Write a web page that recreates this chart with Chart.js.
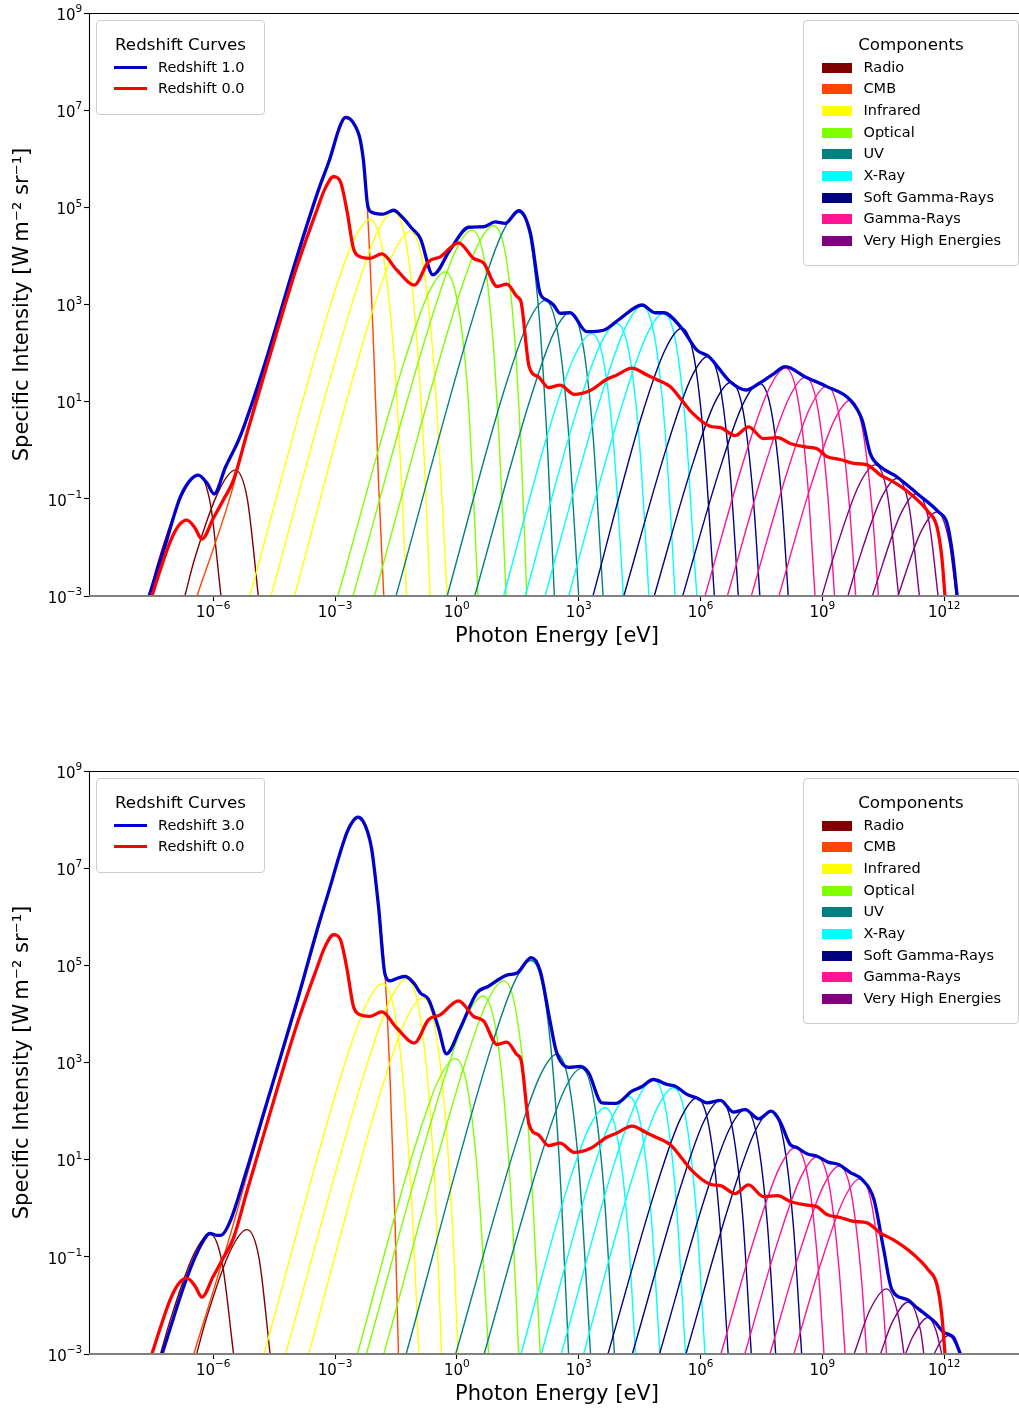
<!DOCTYPE html>
<html><head><meta charset="utf-8">
<script src="https://cdn.jsdelivr.net/npm/chart.js@4.4.1/dist/chart.umd.min.js"></script>
<style>
html,body{margin:0;padding:0;background:#fff;}
body{width:1019px;height:1410px;overflow:hidden;position:relative;font-family:'DejaVu Sans',sans-serif;}
.panel{position:absolute;left:0;width:1030px;height:660px;}
.panel canvas{position:absolute;left:0;top:0;}
.leg{position:absolute;background:rgba(255,255,255,0.8);border:1px solid #cccccc;border-radius:4px;box-sizing:border-box;z-index:2;}
.leg .ttl{position:absolute;left:0;right:0;text-align:center;font-size:16.7px;line-height:20px;color:#000;white-space:nowrap;}
.leg .txt{position:absolute;font-size:14.5px;line-height:18px;color:#000;white-space:nowrap;}
.leg .hnd{position:absolute;}
</style>
</head><body>
<div class="panel" id="p1" style="top:0px"><canvas id="c1" width="1030" height="660"></canvas></div>
<div class="panel" id="p2" style="top:758px"><canvas id="c2" width="1030" height="660"></canvas></div>
<script>
// ---------- axis / labels ----------
const xTickExp = [-6, -3, 0, 3, 6, 9, 12];
const yTickExp = [-3, -1, 1, 3, 5, 7, 9];
const xRangeExp = [-9.06, 13.99];
const yRangeExp = [-3, 9];
const componentNames = ['Radio','CMB','Infrared','Optical','UV','X-Ray','Soft Gamma-Rays','Gamma-Rays','Very High Energies'];
const componentColors = ['#800000','#FF4500','#FFFF00','#7FFF00','#008080','#00FFFF','#000080','#FF1493','#800080'];
const totalColors = ['#0000CD','#FF0000'];
const legendTop = ['Redshift 1.0','Redshift 0.0'];
const legendBottom = ['Redshift 3.0','Redshift 0.0'];

// ---------- data: [log10(E/eV), log10(I)] ----------
// total, redshift 0.0 (same in both panels)
const totalZ0 = [[-7.51,-3],[-7.30,-2.45],[-7.05,-1.86],[-6.85,-1.55],[-6.65,-1.44],[-6.45,-1.60],[-6.28,-1.83],[-6.00,-1.40],[-5.75,-1.02],[-5.50,-0.61],[-5.17,0.35],[-4.76,1.51],[-3.94,3.78],[-3.45,4.94],[-3.25,5.38],[-3.04,5.63],[-2.87,5.53],[-2.71,4.94],[-2.55,4.16],[-2.46,4.02],[-2.14,3.95],[-1.85,4.04],[-1.48,3.71],[-1.05,3.40],[-0.70,3.88],[-0.41,3.98],[0.04,4.27],[0.41,3.95],[0.66,3.85],[0.99,3.37],[1.23,3.42],[1.48,3.16],[1.58,3.05],[1.78,1.72],[2.01,1.51],[2.26,1.29],[2.54,1.34],[2.89,1.15],[3.28,1.23],[3.69,1.46],[3.94,1.55],[4.31,1.69],[4.68,1.55],[4.93,1.45],[5.25,1.31],[5.52,1.05],[5.77,0.79],[6.22,0.50],[6.51,0.46],[6.85,0.30],[7.18,0.48],[7.55,0.24],[7.90,0.26],[8.21,0.14],[8.58,0.07],[8.87,0.03],[9.11,-0.13],[9.44,-0.19],[9.77,-0.27],[10.10,-0.30],[10.43,-0.51],[10.75,-0.65],[11.16,-0.89],[11.61,-1.27],[11.82,-1.57],[11.94,-2.19],[12.02,-3]];

// ---- top panel: redshift 1.0 ----
const totalZ1 = [[-7.58,-3],[-7.22,-2.06],[-6.81,-0.96],[-6.55,-0.60],[-6.37,-0.51],[-6.15,-0.68],[-5.98,-0.90],[-5.70,-0.35],[-5.34,0.28],[-4.76,1.70],[-3.94,3.98],[-3.40,5.38],[-3.12,6.02],[-2.95,6.50],[-2.85,6.73],[-2.75,6.85],[-2.65,6.83],[-2.55,6.74],[-2.45,6.58],[-2.38,6.39],[-2.30,5.95],[-2.20,5.05],[-2.10,4.90],[-1.81,4.86],[-1.56,4.94],[-1.35,4.80],[-1.11,4.57],[-0.90,4.36],[-0.59,3.61],[-0.17,4.12],[0.29,4.59],[0.66,4.60],[0.94,4.70],[1.19,4.67],[1.52,4.93],[1.81,4.47],[2.05,3.23],[2.22,3.09],[2.38,2.99],[2.54,2.82],[2.79,2.83],[3.20,2.44],[3.61,2.47],[4.02,2.71],[4.56,2.99],[4.88,2.83],[5.09,2.83],[5.54,2.51],[5.91,2.06],[6.20,1.93],[6.73,1.41],[7.12,1.24],[7.45,1.38],[7.76,1.55],[8.09,1.72],[8.58,1.51],[9.11,1.31],[9.69,1.03],[9.98,0.62],[10.18,-0.07],[10.43,-0.34],[10.84,-0.55],[11.33,-0.89],[11.86,-1.27],[12.07,-1.50],[12.20,-2.10],[12.32,-3]];
const radioZ1 = [
 [[-7.58,-3],[-7.37,-2.34],[-6.77,-0.93],[-6.37,-0.51],[-6.07,-1.11],[-5.81,-3]],
 [[-6.70,-3],[-6.46,-2.24],[-5.86,-0.83],[-5.46,-0.41],[-5.16,-1.01],[-4.89,-3]]
];
const cmbZ1 = [
 [[-6.40,-3],[-5.58,-0.95],[-4.76,1.68],[-3.94,3.95],[-3.40,5.35],[-3.12,6.00],[-2.95,6.48],[-2.85,6.71],[-2.75,6.83],[-2.65,6.81],[-2.55,6.72],[-2.45,6.56],[-2.38,6.37],[-2.30,5.92],[-2.21,5.05],[-2.05,2.10],[-1.93,-0.65],[-1.80,-3]]
];
const infraredZ1 = [
 [[-5.10,-3],[-3.14,2.92],[-2.54,4.33],[-2.14,4.75],[-1.84,4.15],[-1.59,2.35],[-1.39,-0.25],[-1.24,-3]],
 [[-4.58,-3],[-2.56,3.08],[-1.96,4.49],[-1.56,4.91],[-1.26,4.31],[-1.01,2.51],[-0.81,-0.09],[-0.66,-3]],
 [[-4.00,-3],[-2.15,2.67],[-1.55,4.08],[-1.15,4.50],[-0.85,3.90],[-0.60,2.10],[-0.40,-0.50],[-0.24,-3]]
];
const opticalZ1 = [
 [[-2.93,-3],[-1.29,1.84],[-0.69,3.25],[-0.29,3.67],[0.01,3.07],[0.26,1.27],[0.43,-1.33],[0.52,-3]],
 [[-2.56,-3],[-0.63,2.70],[-0.03,4.11],[0.37,4.53],[0.67,3.93],[0.90,2.13],[1.08,-0.47],[1.21,-3]],
 [[-2.03,-3],[-0.10,2.79],[0.50,4.20],[0.90,4.62],[1.20,4.02],[1.43,2.22],[1.60,-0.38],[1.72,-3]]
];
const uvZ1 = [
 [[-1.50,-3],[0.52,3.07],[1.12,4.48],[1.52,4.90],[1.82,4.30],[2.05,2.50],[2.24,-0.10],[2.40,-3]],
 [[-0.24,-3],[1.17,1.25],[1.77,2.66],[2.17,3.08],[2.47,2.48],[2.72,0.68],[2.92,-1.92],[3.00,-3]],
 [[0.44,-3],[1.79,1.01],[2.39,2.42],[2.79,2.84],[3.09,2.24],[3.34,0.44],[3.54,-2.16],[3.60,-3]]
];
const xrayZ1 = [
 [[1.15,-3],[2.32,0.57],[2.92,1.98],[3.32,2.40],[3.62,1.80],[3.87,0.00],[4.10,-3]],
 [[1.68,-3],[2.94,0.78],[3.54,2.19],[3.94,2.61],[4.24,2.01],[4.49,0.21],[4.73,-3]],
 [[2.17,-3],[3.56,1.14],[4.16,2.55],[4.56,2.97],[4.86,2.37],[5.11,0.57],[5.31,-2.03],[5.37,-3]],
 [[2.75,-3],[4.09,0.99],[4.69,2.40],[5.09,2.82],[5.39,2.22],[5.64,0.42],[5.84,-2.18],[5.91,-3]]
];
const softGammaZ1 = [
 [[3.35,-3],[4.54,0.68],[5.14,2.09],[5.54,2.51],[5.84,1.91],[6.09,0.11],[6.34,-3]],
 [[4.11,-3],[5.18,0.10],[5.78,1.51],[6.18,1.93],[6.48,1.33],[6.73,-0.47],[6.93,-3]],
 [[4.86,-3],[5.75,-0.43],[6.35,0.98],[6.75,1.40],[7.05,0.80],[7.30,-1.00],[7.46,-3]],
 [[5.56,-3],[6.45,-0.45],[7.05,0.96],[7.45,1.38],[7.75,0.78],[8.00,-1.02],[8.16,-3]]
];
const gammaZ1 = [
 [[6.11,-3],[7.09,-0.14],[7.69,1.27],[8.09,1.69],[8.39,1.09],[8.64,-0.71],[8.82,-3]],
 [[6.66,-3],[7.58,-0.33],[8.18,1.08],[8.58,1.50],[8.88,0.90],[9.13,-0.90],[9.30,-3]],
 [[7.25,-3],[8.11,-0.51],[8.71,0.90],[9.11,1.32],[9.41,0.72],[9.66,-1.08],[9.82,-3]],
 [[7.93,-3],[8.69,-0.80],[9.29,0.61],[9.69,1.03],[9.99,0.43],[10.24,-1.37],[10.38,-3]]
];
const vheZ1 = [
 [[8.99,-3],[9.30,-2.13],[9.90,-0.72],[10.30,-0.30],[10.60,-0.90],[10.88,-3]],
 [[9.63,-3],[9.84,-2.41],[10.44,-1.00],[10.84,-0.58],[11.14,-1.18],[11.39,-3]],
 [[10.23,-3],[10.93,-1.31],[11.33,-0.89],[11.63,-1.49],[11.85,-3]],
 [[10.86,-3],[11.42,-1.69],[11.82,-1.27],[12.12,-1.87],[12.30,-3]]
];

// ---- bottom panel: redshift 3.0 ----
const totalZ3 = [[-7.26,-3],[-6.65,-1.43],[-6.30,-0.75],[-6.08,-0.52],[-5.90,-0.56],[-5.79,-0.55],[-5.58,-0.26],[-5.20,0.72],[-4.76,1.95],[-3.94,4.25],[-3.40,5.85],[-3.12,6.62],[-2.90,7.25],[-2.70,7.75],[-2.55,7.98],[-2.44,8.05],[-2.32,7.98],[-2.20,7.75],[-2.10,7.40],[-1.93,6.21],[-1.77,4.81],[-1.64,4.68],[-1.45,4.74],[-1.27,4.77],[-1.05,4.62],[-0.90,4.43],[-0.70,4.30],[-0.45,3.70],[-0.26,3.18],[0.08,3.70],[0.49,4.43],[0.78,4.57],[1.23,4.80],[1.48,4.84],[1.83,5.16],[2.05,4.89],[2.30,3.82],[2.45,3.22],[2.75,2.90],[3.04,2.92],[3.24,2.79],[3.57,2.17],[3.92,2.16],[4.31,2.41],[4.55,2.50],[4.84,2.65],[5.17,2.55],[5.38,2.51],[5.67,2.34],[5.91,2.27],[6.16,2.17],[6.49,2.22],[6.81,1.98],[7.10,2.03],[7.43,1.84],[7.74,2.00],[7.96,1.78],[8.21,1.31],[8.37,1.25],[8.62,1.12],[8.87,1.07],[9.14,0.95],[9.40,0.90],[9.68,0.74],[9.98,0.59],[10.27,0.18],[10.51,-0.85],[10.71,-1.67],[11.08,-1.88],[11.35,-2.06],[11.61,-2.23],[11.78,-2.35],[11.98,-2.55],[12.12,-2.60],[12.23,-2.66],[12.40,-3]];
const radioZ3 = [
 [[-7.30,-3],[-7.08,-2.36],[-6.48,-0.95],[-6.08,-0.53],[-5.78,-1.13],[-5.50,-3]],
 [[-6.41,-3],[-6.17,-2.27],[-5.57,-0.86],[-5.17,-0.44],[-4.87,-1.04],[-4.60,-3]]
];
const cmbZ3 = [
 [[-6.48,-3],[-5.60,-0.60],[-4.76,1.90],[-3.94,4.20],[-3.40,5.80],[-3.12,6.60],[-2.90,7.22],[-2.70,7.72],[-2.55,7.96],[-2.44,8.03],[-2.32,7.96],[-2.20,7.73],[-2.10,7.38],[-1.93,6.20],[-1.77,4.80],[-1.64,2.53],[-1.52,-0.40],[-1.44,-3]]
];
const infraredZ3 = [
 [[-4.75,-3],[-2.83,2.79],[-2.23,4.20],[-1.83,4.62],[-1.53,4.02],[-1.28,2.22],[-1.08,-0.38],[-0.94,-3]],
 [[-4.22,-3],[-2.24,2.89],[-1.64,4.30],[-1.24,4.72],[-0.94,4.12],[-0.69,2.32],[-0.50,-0.28],[-0.38,-3]],
 [[-3.65,-3],[-1.84,2.50],[-1.24,3.91],[-0.84,4.33],[-0.54,3.73],[-0.29,1.93],[-0.09,-0.67],[0.03,-3]]
];
const opticalZ3 = [
 [[-2.45,-3],[-1.04,1.25],[-0.44,2.66],[-0.04,3.08],[0.26,2.48],[0.51,0.68],[0.71,-1.92],[0.78,-3]],
 [[-2.23,-3],[-0.36,2.54],[0.24,3.95],[0.64,4.37],[0.94,3.77],[1.19,1.97],[1.39,-0.63],[1.52,-3]],
 [[-1.80,-3],[0.15,2.85],[0.75,4.26],[1.15,4.68],[1.45,4.08],[1.70,2.28],[1.90,-0.32],[2.05,-3]]
];
const uvZ3 = [
 [[-1.25,-3],[0.83,3.27],[1.43,4.68],[1.83,5.10],[2.13,4.50],[2.38,2.70],[2.58,0.10],[2.75,-3]],
 [[-0.03,-3],[1.46,1.34],[2.06,2.75],[2.46,3.17],[2.76,2.57],[3.01,0.77],[3.21,-1.83],[3.29,-3]],
 [[0.67,-3],[2.06,1.05],[2.66,2.46],[3.06,2.88],[3.36,2.28],[3.61,0.48],[3.81,-2.12],[3.88,-3]]
];
const xrayZ3 = [
 [[1.58,-3],[2.65,0.24],[3.25,1.65],[3.65,2.07],[3.95,1.47],[4.20,-0.33],[4.40,-3]],
 [[2.08,-3],[3.23,0.47],[3.83,1.88],[4.23,2.30],[4.53,1.70],[4.78,-0.10],[5.00,-3]],
 [[2.57,-3],[3.84,0.82],[4.44,2.23],[4.84,2.65],[5.14,2.05],[5.39,0.25],[5.63,-3]],
 [[3.12,-3],[4.33,0.65],[4.93,2.06],[5.33,2.48],[5.63,1.88],[5.88,0.08],[6.11,-3]]
];
const softGammaZ3 = [
 [[3.72,-3],[4.91,0.44],[5.51,1.85],[5.91,2.27],[6.21,1.67],[6.46,-0.13],[6.68,-3]],
 [[4.32,-3],[5.49,0.39],[6.09,1.80],[6.49,2.22],[6.79,1.62],[7.04,-0.18],[7.25,-3]],
 [[4.99,-3],[6.10,0.20],[6.70,1.61],[7.10,2.03],[7.40,1.43],[7.65,-0.37],[7.85,-3]],
 [[5.64,-3],[6.74,0.17],[7.34,1.58],[7.74,2.00],[8.04,1.40],[8.29,-0.40],[8.49,-3]]
];
const gammaZ3 = [
 [[6.50,-3],[7.34,-0.58],[7.94,0.83],[8.34,1.25],[8.64,0.65],[8.89,-1.15],[9.04,-3]],
 [[7.09,-3],[7.87,-0.77],[8.47,0.64],[8.87,1.06],[9.17,0.46],[9.42,-1.34],[9.56,-3]],
 [[7.71,-3],[8.42,-0.96],[9.02,0.45],[9.42,0.87],[9.72,0.27],[9.97,-1.53],[10.09,-3]],
 [[8.30,-3],[8.93,-1.22],[9.53,0.19],[9.93,0.61],[10.23,0.01],[10.48,-1.79],[10.58,-3]]
];
const vheZ3 = [
 [[9.78,-3],[10.18,-2.08],[10.58,-1.66],[10.88,-2.26],[11.01,-3]],
 [[10.43,-3],[10.72,-2.35],[11.12,-1.93],[11.42,-2.53],[11.50,-3]],
 [[11.05,-3],[11.21,-2.67],[11.61,-2.25],[11.80,-2.52],[11.94,-3]],
 [[11.75,-3],[11.92,-2.74],[12.12,-2.62],[12.27,-2.77],[12.38,-3]]
];

const componentsZ1 = [radioZ1, cmbZ1, infraredZ1, opticalZ1, uvZ1, xrayZ1, softGammaZ1, gammaZ1, vheZ1];
const componentsZ3 = [radioZ3, cmbZ3, infraredZ3, opticalZ3, uvZ3, xrayZ3, softGammaZ3, gammaZ3, vheZ3];

// ---------- helpers ----------
const FONT = "'DejaVu Sans', sans-serif";
const BASE_FONT = "15px 'DejaVu Sans', sans-serif";
const SUP_FONT = "10.5px 'DejaVu Sans', sans-serif";
Chart.defaults.font.family = FONT;

function toPts(arr){ return arr.map(p => ({x: Math.pow(10, p[0]), y: Math.pow(10, p[1])})); }
function lineDs(arr, color, width, order){
  return {data: toPts(arr), borderColor: color, backgroundColor: color, borderWidth: width, pointRadius: 0,
          fill: false, cubicInterpolationMode: 'monotone', order: order, clip: 0, borderCapStyle: 'butt', borderJoinStyle: 'round'};
}

const framePlugin = {
  id: 'frame',
  afterDatasetsDraw(chart){
    const {ctx, chartArea: a} = chart;
    ctx.save();
    ctx.strokeStyle = '#000'; ctx.lineWidth = 1.1;
    ctx.beginPath(); ctx.moveTo(a.left, a.top + 0.5); ctx.lineTo(a.right, a.top + 0.5); ctx.stroke();
    ctx.beginPath(); ctx.moveTo(a.left + 0.5, a.top); ctx.lineTo(a.left + 0.5, a.bottom); ctx.stroke();
    ctx.strokeStyle = '#808080'; ctx.lineWidth = 2;
    ctx.beginPath(); ctx.moveTo(a.left, a.bottom); ctx.lineTo(a.right, a.bottom); ctx.stroke();
    ctx.restore();
  }
};

// power-of-ten tick labels drawn as "10" + raised exponent
const tickLabelPlugin = {
  id: 'tickLabels',
  afterDraw(chart){
    const {ctx, chartArea: a, scales} = chart;
    ctx.save(); ctx.fillStyle = '#000'; ctx.textBaseline = 'alphabetic'; ctx.textAlign = 'left';
    const draw = (exp, px, baseY, align) => {
      const base = '10', sup = String(exp).replace('-', '\u2212');
      ctx.font = BASE_FONT; const wb = ctx.measureText(base).width;
      ctx.font = SUP_FONT; const ws = ctx.measureText(sup).width;
      const tot = wb + ws;
      const x0 = align === 'center' ? px - tot / 2 : px - tot;
      ctx.font = BASE_FONT; ctx.fillText(base, x0, baseY);
      ctx.font = SUP_FONT; ctx.fillText(sup, x0 + wb, baseY - 7.5);
    };
    xTickExp.forEach(e => draw(e, scales.x.getPixelForValue(Math.pow(10, e)), a.bottom + 20.7, 'center'));
    yTickExp.forEach(e => draw(e, a.left - 6.8, scales.y.getPixelForValue(Math.pow(10, e)) + 6.7, 'right'));
    ctx.restore();
  }
};

function makeChart(canvasId, total, components){
  const datasets = [];
  datasets.push(lineDs(totalZ0, totalColors[1], 3.3, 0));
  datasets.push(lineDs(total, totalColors[0], 3.3, 1));
  components.forEach((group, k) => {
    group.forEach(curve => datasets.push(lineDs(curve, componentColors[k], 1.4, 20 - k)));
  });
  return new Chart(document.getElementById(canvasId), {
    type: 'line',
    data: {datasets},
    plugins: [framePlugin, tickLabelPlugin],
    options: {
      responsive: false, animation: false, devicePixelRatio: 1, parsing: false,
      layout: {padding: {top: 13, left: 0, right: 5, bottom: 0}},
      plugins: {legend: {display: false}, tooltip: {enabled: false}},
      scales: {
        x: {
          type: 'logarithmic', min: Math.pow(10, xRangeExp[0]), max: Math.pow(10, xRangeExp[1]),
          afterBuildTicks: s => { s.ticks = xTickExp.map(e => ({value: Math.pow(10, e)})); },
          afterFit: s => { s.height = 64; },
          ticks: {display: false, autoSkip: false, maxRotation: 0, minRotation: 0},
          grid: {display: true, drawOnChartArea: false, drawTicks: true, tickLength: 5, tickColor: '#000', tickWidth: 1.1},
          border: {display: false},
          title: {display: true, text: 'Photon Energy [eV]', color: '#000', font: {family: FONT, size: 21},
                  padding: {top: 0, bottom: 10.4}}
        },
        y: {
          type: 'logarithmic', min: Math.pow(10, yRangeExp[0]), max: Math.pow(10, yRangeExp[1]),
          afterBuildTicks: s => { s.ticks = yTickExp.map(e => ({value: Math.pow(10, e)})); },
          afterFit: s => { s.width = 89; },
          ticks: {display: false, autoSkip: false},
          grid: {display: true, drawOnChartArea: false, drawTicks: true, tickLength: 5, tickColor: '#000', tickWidth: 1.1},
          border: {display: false},
          title: {display: true, text: 'Specific Intensity [W\u2009m\u207B\u00B2 sr\u207B\u00B9]', color: '#000',
                  font: {family: FONT, size: 21}, padding: {top: 10.4, bottom: 0}}
        }
      }
    }
  });
}

function el(tag, cls, styles, text){
  const d = document.createElement(tag); if (cls) d.className = cls;
  Object.assign(d.style, styles || {}); if (text !== undefined) d.textContent = text; return d;
}
function buildLegends(panelId, redshiftLabels){
  const p = document.getElementById(panelId);
  const l1 = el('div', 'leg', {left: '96px', top: '20px', width: '169px', height: '95px'});
  l1.appendChild(el('div', 'ttl', {top: '12.5px'}, 'Redshift Curves'));
  redshiftLabels.forEach((lab, i) => {
    const cy = 46.5 + 21 * i;
    l1.appendChild(el('div', 'hnd', {left: '17px', top: (cy - 1.6) + 'px', width: '33px', height: '3.3px', background: totalColors[i]}));
    l1.appendChild(el('div', 'txt', {left: '61px', top: (cy - 10) + 'px'}, lab));
  });
  p.appendChild(l1);
  const l2 = el('div', 'leg', {left: '803px', top: '20px', width: '216px', height: '246px'});
  l2.appendChild(el('div', 'ttl', {top: '12.5px'}, 'Components'));
  componentNames.forEach((lab, i) => {
    const cy = 46.5 + 21.7 * i;
    l2.appendChild(el('div', 'hnd', {left: '17.5px', top: (cy - 5) + 'px', width: '30px', height: '10px', background: componentColors[i]}));
    l2.appendChild(el('div', 'txt', {left: '59.5px', top: (cy - 10) + 'px'}, lab));
  });
  p.appendChild(l2);
}

makeChart('c1', totalZ1, componentsZ1);
makeChart('c2', totalZ3, componentsZ3);
buildLegends('p1', legendTop);
buildLegends('p2', legendBottom);
</script>
</body></html>
